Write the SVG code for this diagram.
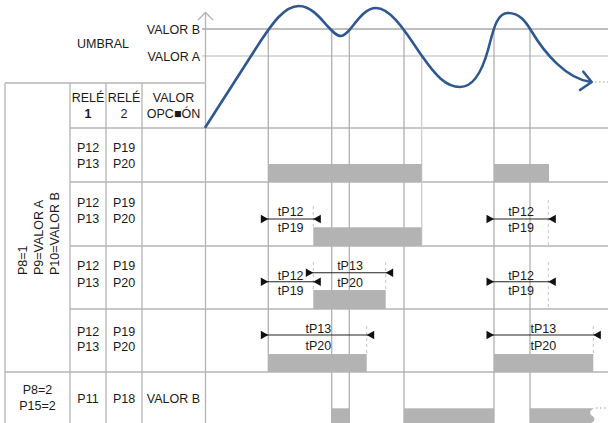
<svg xmlns="http://www.w3.org/2000/svg" xmlns:xlink="http://www.w3.org/1999/xlink" width="608" height="423" viewBox="0 0 608 423">
<style>
text{font-family:"Liberation Sans",Arial,sans-serif;font-size:12.5px;fill:#1a1a1a;}
.c{text-anchor:middle}
.e{text-anchor:end}
.tl{stroke:#b4b4b4;stroke-width:1.3;fill:none}
.vl{stroke:#b0b0b0;stroke-width:1.3;fill:none}
.lt{stroke:#cdcdcd;stroke-width:1.3;fill:none}
.bar{fill:#b3b3b3}
.dash{stroke:#c4c4c4;stroke-width:1;stroke-dasharray:3 3;fill:none}
.dim{stroke:#222;stroke-width:1.1;fill:none}
.dot{stroke:#bdbdbd;stroke-width:1.5;stroke-dasharray:1.5 2.5;fill:none}
</style>
<defs>
<path id="tr" d="M-7.5,-4.3 L0,0 L-7.5,4.3 Z" fill="#111"/>
<path id="tlf" d="M7.5,-4.3 L0,0 L7.5,4.3 Z" fill="#111"/>
</defs>
<rect width="608" height="423" fill="#fff"/>

<g id="table">
<line class="tl" x1="5" y1="83" x2="205" y2="83"/>
<line class="tl" x1="70" y1="128" x2="608" y2="128"/>
<line class="tl" x1="70" y1="182" x2="608" y2="182"/>
<line class="tl" x1="70" y1="246" x2="608" y2="246"/>
<line class="tl" x1="70" y1="309" x2="608" y2="309"/>
<line class="tl" x1="5" y1="372" x2="608" y2="372"/>
<line class="tl" x1="5" y1="83" x2="5" y2="423"/>
<line class="tl" x1="70" y1="83" x2="70" y2="423"/>
<line class="tl" x1="106" y1="83" x2="106" y2="423"/>
<line class="tl" x1="142" y1="83" x2="142" y2="423"/>
</g>

<g id="axis">
<line x1="202" y1="29" x2="608" y2="29" stroke="#a8a8a8" stroke-width="1.5"/>
<line x1="202" y1="56" x2="608" y2="56" stroke="#cfcfcf" stroke-width="1.5"/>
<line class="tl" x1="205.5" y1="13" x2="205.5" y2="423"/>
<path d="M198,20 L205.5,12.5 L213,20" fill="none" stroke="#b0b0b0" stroke-width="1.3"/>
<text class="c" x="103" y="48">UMBRAL</text>
<text class="e" x="200" y="34.3">VALOR B</text>
<text class="e" x="200" y="61">VALOR A</text>
</g>

<g id="timelines">
<line class="vl" x1="268.3" y1="29" x2="268.3" y2="372"/>
<line class="vl" x1="331.7" y1="29" x2="331.7" y2="423"/>
<line class="vl" x1="349.3" y1="29" x2="349.3" y2="423"/>
<line class="vl" x1="404" y1="29" x2="404" y2="423"/>
<line class="lt" x1="421.7" y1="56" x2="421.7" y2="246"/>
<line class="vl" x1="494" y1="29" x2="494" y2="423"/>
<line class="vl" x1="530" y1="29" x2="530" y2="423"/>
</g>

<g id="curve">
<path d="M205.5,127 L260,42 C272,24 284,6 299,6 C318,6 330,36 341,36 C350,36 360,8 376,8 C392,8 408,36 422,56 C436,76 446,87 460,87 C474,87 483,68 488,50 C493,32 496,13 508,13 C520,13 526,22 532,32 C544,52 566,79 591,82" fill="none" stroke="#2f5891" stroke-width="2.6" stroke-linecap="round"/>
<path d="M583.3,71.7 L591.7,82 L580,90" fill="none" stroke="#2f5891" stroke-width="2.6" stroke-linecap="round" stroke-linejoin="round"/>
<line class="dot" x1="595" y1="82" x2="608" y2="82"/>
</g>

<g id="header">
<text class="c" x="88" y="102">RELÉ</text>
<text class="c" x="88" y="118" font-weight="bold">1</text>
<text class="c" x="124" y="102">RELÉ</text>
<text class="c" x="124" y="118">2</text>
<text class="c" x="173.5" y="102">VALOR</text>
<text class="c" x="173.5" y="118">OPC■ÓN</text>
</g>

<g id="group-p8-1">
<text transform="translate(27,275) rotate(-90)">P8=1</text>
<text transform="translate(43,275) rotate(-90)">P9=VALOR A</text>
<text transform="translate(59,275) rotate(-90)">P10=VALOR B</text>
</g>

<g id="row1">
<text class="c" x="88" y="151.5">P12</text>
<text class="c" x="88" y="167.5">P13</text>
<text class="c" x="124" y="151.5">P19</text>
<text class="c" x="124" y="167.5">P20</text>
<rect class="bar" x="268.3" y="164" width="153.4" height="18"/>
<rect class="bar" x="494" y="164" width="55" height="18"/>
</g>

<g id="row2">
<text class="c" x="88" y="207.3">P12</text>
<text class="c" x="88" y="223.3">P13</text>
<text class="c" x="124" y="207.3">P19</text>
<text class="c" x="124" y="223.3">P20</text>
<rect class="bar" x="313.3" y="227.3" width="108.4" height="18.7"/>
<text class="c" x="290.7" y="215.5">tP12</text>
<text class="c" x="290.7" y="232">tP19</text>
<text class="c" x="521" y="215.5">tP12</text>
<text class="c" x="521" y="232">tP19</text>
</g>

<g id="row3">
<text class="c" x="88" y="270">P12</text>
<text class="c" x="88" y="286.5">P13</text>
<text class="c" x="124" y="270">P19</text>
<text class="c" x="124" y="286.5">P20</text>
<rect class="bar" x="313.3" y="290" width="72.4" height="19"/>
<text class="c" x="290.7" y="279.5">tP12</text>
<text class="c" x="290.7" y="295">tP19</text>
<text class="c" x="350" y="270">tP13</text>
<text class="c" x="350" y="286.5">tP20</text>
<text class="c" x="521" y="279.5">tP12</text>
<text class="c" x="521" y="295">tP19</text>
</g>

<g id="row4">
<text class="c" x="88" y="335.5">P12</text>
<text class="c" x="88" y="350.5">P13</text>
<text class="c" x="124" y="335.5">P19</text>
<text class="c" x="124" y="350.5">P20</text>
<rect class="bar" x="268.3" y="354" width="98.4" height="18"/>
<rect class="bar" x="494" y="354" width="99.3" height="18"/>
<text class="c" x="318.3" y="333.3">tP13</text>
<text class="c" x="318.3" y="350">tP20</text>
<text class="c" x="543.3" y="333.3">tP13</text>
<text class="c" x="543.3" y="350">tP20</text>
</g>

<g id="row5">
<text class="c" x="37.5" y="394.3">P8=2</text>
<text class="c" x="37.5" y="410">P15=2</text>
<text class="c" x="88" y="403.3">P11</text>
<text class="c" x="124" y="403.3">P18</text>
<text class="c" x="173.5" y="403.3">VALOR B</text>
<rect class="bar" x="331.7" y="408.3" width="17.6" height="14.7"/>
<rect class="bar" x="404" y="408.3" width="90" height="14.7"/>
<path class="bar" d="M530,408.3 L594,408.3 C589,411 589,414 593,416.5 C596,419 594,422 591,423 L530,423 Z"/>
<line class="dot" x1="596" y1="408" x2="608" y2="408"/>
</g>

<g id="connectors">
<line class="dash" x1="313.3" y1="206" x2="313.3" y2="227"/>
<line class="dash" x1="548.3" y1="200" x2="548.3" y2="246"/>
<line class="dash" x1="313.3" y1="262" x2="313.3" y2="290"/>
<line class="dash" x1="385.7" y1="262" x2="385.7" y2="290"/>
<line class="dash" x1="548.3" y1="262" x2="548.3" y2="309"/>
<line class="dash" x1="366.7" y1="326" x2="366.7" y2="354"/>
<line class="dash" x1="593.3" y1="326" x2="593.3" y2="354"/>

<line class="dim" x1="262" y1="219" x2="320.5" y2="219"/>
<use xlink:href="#tr" x="268.3" y="219"/>
<use xlink:href="#tlf" x="313.3" y="219"/>
<line class="dim" x1="487" y1="219" x2="555.5" y2="219"/>
<use xlink:href="#tr" x="494" y="219"/>
<use xlink:href="#tlf" x="548.3" y="219"/>

<line class="dim" x1="262" y1="281.7" x2="320.5" y2="281.7"/>
<use xlink:href="#tr" x="268.3" y="281.7"/>
<use xlink:href="#tlf" x="313.3" y="281.7"/>
<line class="dim" x1="306.5" y1="272.7" x2="393" y2="272.7"/>
<use xlink:href="#tr" x="313.3" y="272.7"/>
<use xlink:href="#tlf" x="385.7" y="272.7"/>
<line class="dim" x1="487" y1="281.7" x2="555.5" y2="281.7"/>
<use xlink:href="#tr" x="494" y="281.7"/>
<use xlink:href="#tlf" x="548.3" y="281.7"/>

<line class="dim" x1="261.5" y1="335" x2="374" y2="335"/>
<use xlink:href="#tr" x="268.3" y="335"/>
<use xlink:href="#tlf" x="366.7" y="335"/>
<line class="dim" x1="487" y1="335" x2="600.5" y2="335"/>
<use xlink:href="#tr" x="494" y="335"/>
<use xlink:href="#tlf" x="593.3" y="335"/>
</g>
</svg>
